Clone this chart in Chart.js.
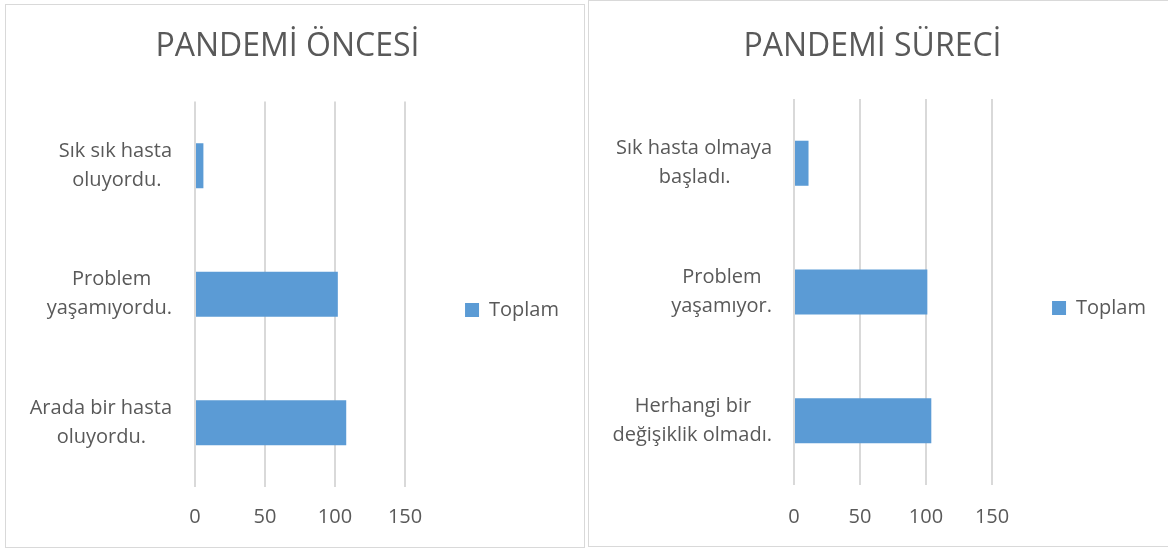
<!DOCTYPE html>
<html>
<head>
<meta charset="utf-8">
<script src="https://cdn.jsdelivr.net/npm/chart.js@4/dist/chart.umd.min.js"></script>
<style>
  body { margin: 0; background: #fff; }
  .box { position: absolute; border: 1px solid #d9d9d9; background: #fff; }
  #leftBox { left: 5px; top: 4px; width: 578px; height: 542px; }
  #rightBox { left: 588px; top: 0px; width: 580px; height: 545px; }
  canvas { display: block; }
</style>
</head>
<body>
<div class="box" id="leftBox"><canvas id="beforeChart" width="578" height="542"></canvas></div>
<div class="box" id="rightBox"><canvas id="duringChart" width="580" height="545"></canvas></div>
<script>
const beforeTitle = 'PANDEMİ ÖNCESİ';
const beforeLabels = [['Sık sık hasta', 'oluyordu.'], ['Problem', 'yaşamıyordu.'], ['Arada bir hasta', 'oluyordu.']];
const beforeValues = [6, 102, 108];

const duringTitle = 'PANDEMİ SÜRECİ';
const duringLabels = [['Sık hasta olmaya', 'başladı.'], ['Problem', 'yaşamıyor.'], ['Herhangi bir', 'değişiklik olmadı.']];
const duringValues = [11, 101, 104];

const seriesName = 'Toplam';
const xMin = 0, xMax = 150, xStep = 50;

const textColor = '#595959';
const barColor = '#5B9BD5';
const gridColor = '#d9d9d9';
const fontFamily = '"Open Sans", sans-serif';

// centre the lines of a label inside its block (the axis draws them right-aligned)
const measureCtx = document.createElement('canvas').getContext('2d');
measureCtx.font = '20px ' + fontFamily;
function centerLines(lines) {
  const widths = lines.map(l => measureCtx.measureText(l).width);
  const max = Math.max(...widths);
  const sp = measureCtx.measureText(' ').width;
  return lines.map((l, i) => l + ' '.repeat(Math.round((max - widths[i]) / 2 / sp)));
}

function makeChart(id, title, labels, values, geo) {
  return new Chart(document.getElementById(id).getContext('2d'), {
    type: 'bar',
    data: {
      labels: labels,
      datasets: [{
        label: seriesName,
        data: values,
        backgroundColor: barColor,
        borderWidth: 0,
        barPercentage: 0.35,
        categoryPercentage: 1
      }]
    },
    options: {
      indexAxis: 'y',
      responsive: false,
      animation: false,
      layout: {
        padding: { left: 0, right: geo.padRight, top: 0, bottom: geo.padBottom }
      },
      plugins: {
        title: {
          display: true,
          text: title,
          color: textColor,
          font: { family: fontFamily, size: 32, weight: 'normal', lineHeight: 1.2 },
          padding: { top: geo.titleTop, bottom: geo.titleBottom }
        },
        legend: {
          position: 'right',
          maxWidth: 220,
          // empty title only pushes the single entry down to where it sits in the original
          title: { display: true, text: ' ', color: 'rgba(0,0,0,0)', font: { size: 12, lineHeight: 1.2 }, padding: { top: 0, bottom: 71.6 } },
          labels: {
            boxWidth: 14,
            boxHeight: 14,
            padding: 60,
            color: textColor,
            font: { family: fontFamily, size: 20 }
          }
        },
        tooltip: { enabled: false }
      },
      scales: {
        x: {
          min: xMin,
          max: xMax,
          afterFit: s => { s.height = geo.xTickPad + 24; },
          ticks: {
            stepSize: xStep,
            padding: geo.xTickPad,
            color: textColor,
            font: { family: fontFamily, size: 20 }
          },
          grid: { color: gridColor, lineWidth: 2, drawTicks: false },
          border: { display: false }
        },
        y: {
          afterFit: s => {
            s.width = geo.yWidth;
            s.paddingTop = 0;
            s.paddingBottom = 0;
          },
          ticks: {
            padding: geo.yTickPad,
            color: textColor,
            font: { family: fontFamily, size: 20, lineHeight: 1.45 },
            callback: function(value) {
              return centerLines(this.getLabelForValue(value));
            }
          },
          grid: { display: false, drawTicks: false },
          border: { display: false }
        }
      }
    }
  });
}

makeChart('beforeChart', beforeTitle, beforeLabels, beforeValues, {
  padRight: 15, padBottom: 18, titleTop: 23, titleBottom: 35, xTickPad: 18, yWidth: 189, yTickPad: 23
});
makeChart('duringChart', duringTitle, duringLabels, duringValues, {
  padRight: 13, padBottom: 17, titleTop: 26.5, titleBottom: 33, xTickPad: 20, yWidth: 205, yTickPad: 22
});
</script>
</body>
</html>
